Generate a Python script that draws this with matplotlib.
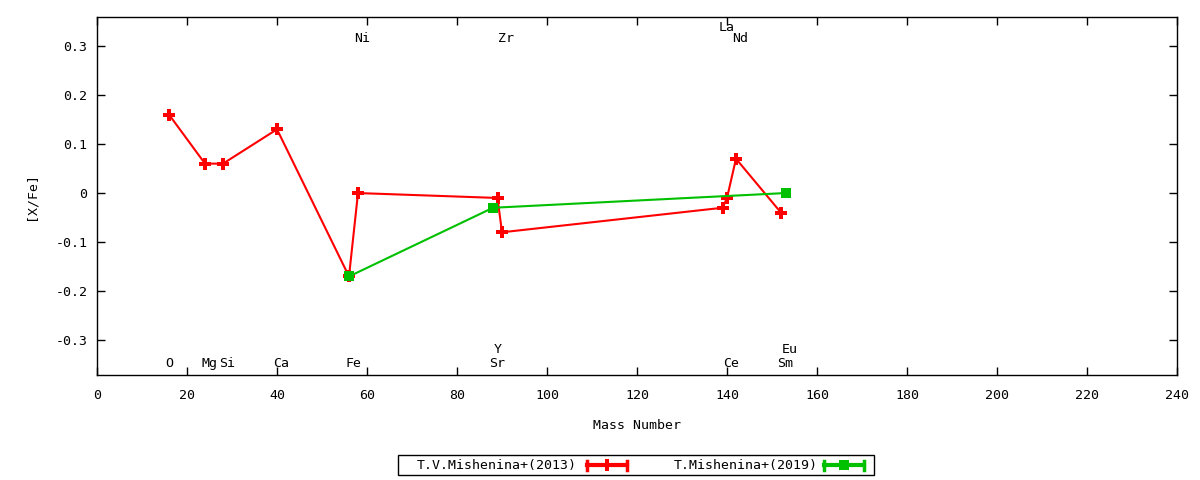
import matplotlib
matplotlib.use("Agg")
import matplotlib.pyplot as plt
from matplotlib.lines import Line2D
from matplotlib.patches import Rectangle
from matplotlib.ticker import FuncFormatter

plt.rcParams['font.family'] = ['DejaVu Sans Mono']
plt.rcParams['axes.unicode_minus'] = False

# ---- data ----
mass_2013 = [16, 24, 28, 40, 56, 58, 89, 90, 139, 140, 142, 152]
xfe_2013 = [0.16, 0.06, 0.06, 0.13, -0.17, 0.0, -0.01, -0.08, -0.03, -0.01, 0.07, -0.04]
mass_2019 = [56, 88, 153]
xfe_2019 = [-0.17, -0.03, 0.0]

label_names = ["O", "Mg", "Si", "Ca", "Fe", "Ni", "Sr", "Y", "Zr", "La", "Ce", "Nd", "Sm", "Eu"]
label_mass = [16, 24, 28, 40, 56, 58, 88, 89, 90, 139, 140, 142, 152, 153]
label_row = ["b1", "b1", "b1", "b1", "b1", "t1", "b1", "b2", "t1", "t2", "b1", "t1", "b1", "b2"]

series_names = ["T.V.Mishenina+(2013)", "T.Mishenina+(2019)"]
x_ticks = list(range(0, 241, 20))
y_ticks = [-0.3, -0.2, -0.1, 0.0, 0.1, 0.2, 0.3]

# ---- layout ----
W, H = 1200, 480
fig = plt.figure(figsize=(W / 100, H / 100), dpi=100)
L, R, T, B = 97, 1177, 17, 375
ax = fig.add_axes([L / W, 1 - B / H, (R - L) / W, (B - T) / H])

FS = 9.5
red = "#ff0000"
green = "#00c000"

ax.plot(mass_2013, xfe_2013, color=red, lw=1.5, marker='P', ms=8, mew=0, zorder=3)
ax.plot(mass_2019, xfe_2019, color=green, lw=1.5, marker='s', ms=7, mew=0, zorder=4)

row_y = {"b1": -0.347, "b2": -0.318, "t1": 0.316, "t2": 0.337}
for name, m, r in zip(label_names, label_mass, label_row):
    ax.text(m - 0.8, row_y[r], name, ha='left', va='center', fontsize=FS)

ax.set_xlim(0, 240)
ax.set_ylim(-0.371, 0.359)
ax.set_xticks(x_ticks)
ax.set_yticks(y_ticks)
ax.yaxis.set_major_formatter(FuncFormatter(lambda v, p: "%g" % round(v, 3)))
ax.tick_params(direction='in', length=6, width=1, top=True, right=True,
               labelsize=FS, pad=7)
ax.tick_params(axis='x', pad=10)
for s in ax.spines.values():
    s.set_linewidth(1)

ax.set_xlabel("Mass Number", fontsize=FS, labelpad=12)
ax.set_ylabel("[X/Fe]", fontsize=FS, labelpad=13)

# ---- legend (gnuplot style key) ----
def fx(x):
    return x / W

def fy(y):
    return 1 - y / H

fig.patches.append(Rectangle((fx(398), fy(475)), (874 - 398) / W, 20 / H,
                             transform=fig.transFigure, fill=False,
                             edgecolor='black', lw=1))
ky = 465
entries = [(series_names[0], 577, 587, 627, red, 'P', 8),
           (series_names[1], 818, 824, 864, green, 's', 7)]
for name, tx, x0, x1, col, mk, ms in entries:
    fig.text(fx(tx), fy(ky), name, ha='right', va='center', fontsize=FS)
    fig.lines.append(Line2D([fx(x0), fx(x1)], [fy(ky), fy(ky)],
                            transform=fig.transFigure, color=col, lw=3))
    for xc in (x0, x1):
        fig.lines.append(Line2D([fx(xc), fx(xc)], [fy(ky - 4.5), fy(ky + 4.5)],
                                transform=fig.transFigure, color=col, lw=2.5))
    fig.lines.append(Line2D([fx((x0 + x1) / 2)], [fy(ky)],
                            transform=fig.transFigure, color=col, marker=mk,
                            ms=ms, mew=0, lw=0))

fig.savefig("out.png", dpi=100)
